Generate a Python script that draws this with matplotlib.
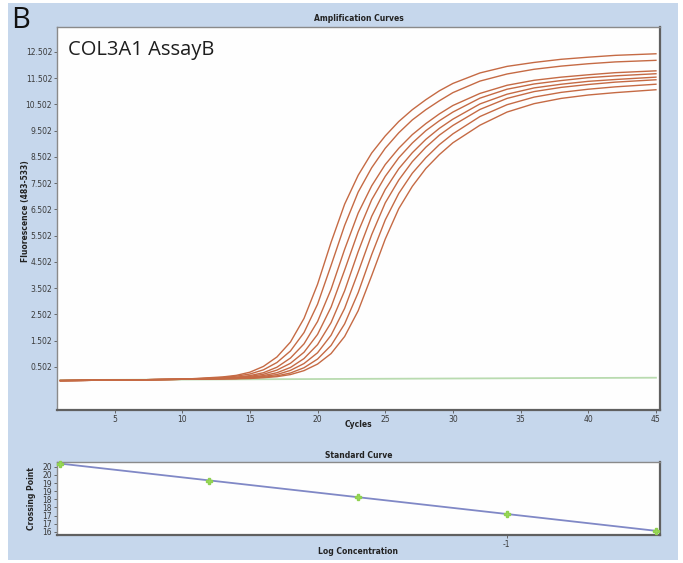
import numpy as np
import matplotlib
matplotlib.use("Agg")
import matplotlib.pyplot as plt
from matplotlib.patches import Rectangle

# ---------------- data ----------------
cycles = [1, 5, 10, 12, 13, 14, 15, 16, 17, 18, 19, 20, 21, 22, 23, 24, 25,
          26, 27, 28, 29, 30, 32, 34, 36, 38, 40, 42, 45]

curve1 = [-0.02, 0.0, 0.03, 0.09, 0.12, 0.18, 0.30, 0.52, 0.88, 1.45, 2.35, 3.65, 5.25,
          6.70, 7.80, 8.65, 9.30, 9.85, 10.30, 10.68, 11.02, 11.30, 11.70, 11.95,
          12.10, 12.22, 12.30, 12.37, 12.43]
curve2 = [-0.02, 0.0, 0.03, 0.07, 0.10, 0.15, 0.23, 0.39, 0.67, 1.11, 1.81, 2.89, 4.37,
          5.89, 7.16, 8.09, 8.83, 9.42, 9.91, 10.30, 10.64, 10.95, 11.39, 11.66,
          11.84, 11.96, 12.05, 12.12, 12.18]
curve3 = [-0.02, 0.0, 0.03, 0.06, 0.09, 0.11, 0.17, 0.28, 0.49, 0.84, 1.38, 2.23, 3.46,
          4.98, 6.36, 7.40, 8.21, 8.83, 9.35, 9.77, 10.14, 10.46, 10.92, 11.23,
          11.42, 11.54, 11.63, 11.71, 11.78]
curve4 = [-0.02, 0.0, 0.03, 0.06, 0.07, 0.10, 0.14, 0.22, 0.38, 0.64, 1.06, 1.74, 2.78,
          4.19, 5.65, 6.87, 7.76, 8.47, 9.03, 9.50, 9.88, 10.21, 10.74, 11.08,
          11.28, 11.41, 11.52, 11.59, 11.67]
curve5 = [-0.02, 0.0, 0.03, 0.05, 0.06, 0.08, 0.11, 0.17, 0.28, 0.48, 0.82, 1.35, 2.19,
          3.40, 4.89, 6.24, 7.26, 8.05, 8.66, 9.17, 9.59, 9.94, 10.52, 10.89,
          11.13, 11.27, 11.38, 11.45, 11.54]
curve6 = [-0.02, 0.0, 0.03, 0.05, 0.06, 0.06, 0.10, 0.14, 0.21, 0.37, 0.63, 1.04, 1.71,
          2.73, 4.11, 5.54, 6.75, 7.62, 8.32, 8.87, 9.33, 9.70, 10.31, 10.73,
          10.99, 11.15, 11.26, 11.35, 11.44]
curve7 = [-0.02, 0.0, 0.03, 0.04, 0.05, 0.06, 0.08, 0.11, 0.16, 0.27, 0.47, 0.80, 1.32,
          2.14, 3.33, 4.78, 6.10, 7.11, 7.88, 8.47, 8.97, 9.38, 10.04, 10.49,
          10.78, 10.96, 11.08, 11.17, 11.27]
curve8 = [-0.02, 0.0, 0.03, 0.04, 0.04, 0.05, 0.06, 0.09, 0.13, 0.21, 0.36, 0.61, 1.01,
          1.66, 2.64, 3.98, 5.37, 6.53, 7.38, 8.06, 8.59, 9.04, 9.71, 10.21,
          10.53, 10.73, 10.86, 10.95, 11.06]
curves = [curve1, curve2, curve3, curve4, curve5, curve6, curve7, curve8]

neg_cycles = [1, 10, 20, 30, 40, 45]
neg_values = [0.0, 0.02, 0.04, 0.06, 0.08, 0.09]

fl_ticks = [0.502, 1.502, 2.502, 3.502, 4.502, 5.502, 6.502, 7.502, 8.502,
            9.502, 10.502, 11.502, 12.502]
fl_ticklabels = ["0.502", "1.502", "2.502", "3.502", "4.502", "5.502", "6.502",
                 "7.502", "8.502", "9.502", "10.502", "11.502", "12.502"]
cyc_ticks = [5, 10, 15, 20, 25, 30, 35, 40, 45]

log_conc = [-1.903, -1.602, -1.301, -1.0, -0.699]
crossing_point = [20.2, 19.15, 18.15, 17.1, 16.05]
cp_ticks = [16, 16.5, 17, 17.5, 18, 18.5, 19, 19.5, 20]
cp_ticklabels = ["16", "17", "17", "18", "18", "19", "19", "20", "20"]

# ---------------- figure ----------------
W, H = 683, 563
fig = plt.figure(figsize=(W / 100, H / 100), dpi=100, facecolor="white")
bg = Rectangle((8 / W, 1 - 560 / H), (678 - 8) / W, (560 - 3) / H,
               transform=fig.transFigure, facecolor="#c6d7ec",
               edgecolor="none", zorder=-10)
fig.add_artist(bg)

small = ["Liberation Sans Narrow", "DejaVu Sans Condensed", "DejaVu Sans"]

def box(x0, y0, x1, y1):
    return [x0 / W, 1 - y1 / H, (x1 - x0) / W, (y1 - y0) / H]

def style_axes(ax):
    ax.set_facecolor("#fefefe")
    for s in ["left", "top"]:
        ax.spines[s].set_color("#8a8a8a")
        ax.spines[s].set_linewidth(1.0)
    for s in ["right", "bottom"]:
        ax.spines[s].set_color("#606060")
        ax.spines[s].set_linewidth(1.6)
    ax.tick_params(length=2, width=0.6, color="#555555", labelsize=5.5, pad=1.5)
    for lab in ax.get_xticklabels() + ax.get_yticklabels():
        lab.set_family(small)
        lab.set_color("#3a3a3a")

# main amplification plot
ax = fig.add_axes(box(57, 27, 660, 410), zorder=2)
ax.plot(neg_cycles, neg_values, color="#b9dbb0", lw=1.3, zorder=1)
for vals in curves:
    ax.plot(cycles, vals, color="#c56a44", lw=1.0, zorder=2)
ax.set_xlim(0.75, 45.3)
ax.set_ylim(-1.14, 13.45)
ax.set_xticks(cyc_ticks)
ax.set_xticklabels([str(t) for t in cyc_ticks])
ax.set_yticks(fl_ticks)
ax.set_yticklabels(fl_ticklabels)
style_axes(ax)
ax.set_title("Amplification Curves", fontsize=5.5, fontweight="bold",
             family=small, color="#222222", pad=4)
ax.set_xlabel("Cycles", fontsize=5.5, fontweight="bold", family=small,
              color="#222222")
ax.xaxis.set_label_coords(0.5, -0.026)
ax.set_ylabel("Fluorescence (483-533)", fontsize=5.5, fontweight="bold",
              family=small, color="#222222")
ax.yaxis.set_label_coords(-0.044, 0.52)
ax.text(0.018, 0.965, "COL3A1 AssayB", transform=ax.transAxes, fontsize=14.5,
        family=["Open Sans", "DejaVu Sans"], fontweight="normal",
        color="#1e1e1e", va="top", ha="left")

# panel letter
fig.text(11 / W, 1 - 6 / H, "B", fontsize=21, family=["Open Sans", "DejaVu Sans"],
         color="#111111", va="top", ha="left", zorder=3)

# standard curve
ax2 = fig.add_axes(box(57, 462, 660, 535), zorder=2)
slope, intercept = np.polyfit(log_conc, crossing_point, 1)
xl = np.array([-1.91, -0.69])
ax2.plot(xl, slope * xl + intercept, color="#8088c6", lw=1.3, zorder=2)
ax2.plot(log_conc, crossing_point, linestyle="none", marker="P", ms=4.5,
         color="#9ad85c", markeredgecolor="#8fd14f", zorder=3, clip_on=False)
ax2.set_xlim(-1.91, -0.69)
ax2.set_ylim(15.8, 20.3)
ax2.set_xticks([-1])
ax2.set_xticklabels(["-1"])
ax2.set_yticks(cp_ticks)
ax2.set_yticklabels(cp_ticklabels)
style_axes(ax2)
ax2.set_title("Standard Curve", fontsize=5.5, fontweight="bold", family=small,
              color="#222222", pad=3)
ax2.set_xlabel("Log Concentration", fontsize=5.5, fontweight="bold",
               family=small, color="#222222")
ax2.xaxis.set_label_coords(0.5, -0.17)
ax2.set_ylabel("Crossing Point", fontsize=5.5, fontweight="bold", family=small,
               color="#222222")
ax2.yaxis.set_label_coords(-0.035, 0.5)

fig.savefig("out.png", dpi=100, facecolor=fig.get_facecolor())
